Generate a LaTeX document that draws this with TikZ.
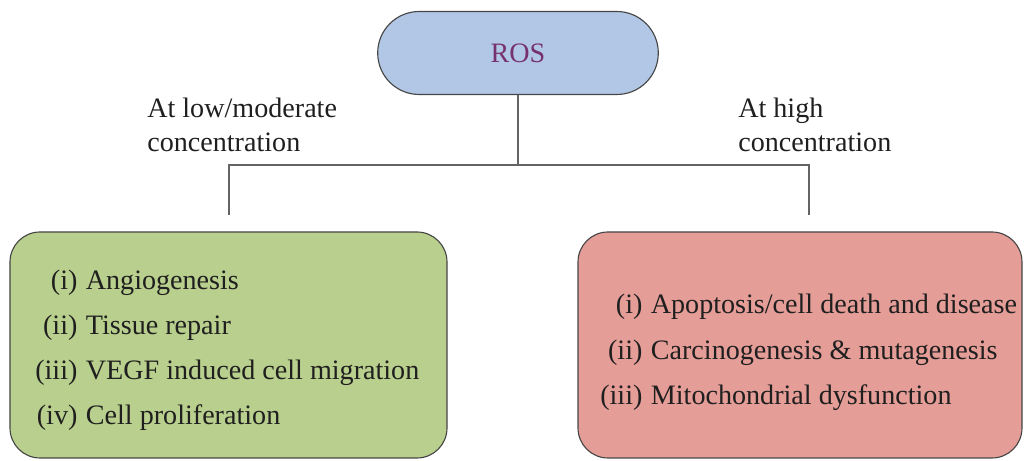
\documentclass[tikz,border=0pt]{standalone}
\usepackage{fontspec}
\setmainfont{Liberation Serif}
\usetikzlibrary{shapes.misc}
\definecolor{rosblue}{RGB}{178,199,229}
\definecolor{rostext}{RGB}{118,50,110}
\definecolor{lowgreen}{RGB}{185,207,141}
\definecolor{highred}{RGB}{229,157,151}
\definecolor{edgegray}{RGB}{70,70,70}
\definecolor{linegray}{RGB}{100,100,100}
\newcommand{\effectlist}[1]{{\renewcommand{\arraystretch}{1.31}\begin{tabular}{@{}r@{\hspace{6pt}}l@{}}#1\end{tabular}}}

\begin{document}
\begin{tikzpicture}[
  every node/.style={font=\fontsize{20}{24.5}\selectfont, text=black!88},
  rosbox/.style={draw=edgegray, line width=.8pt, fill=rosblue, rounded rectangle, minimum width=7.25cm, minimum height=2.075cm, text=rostext},
  effectbox/.style={draw=edgegray, line width=.8pt, rounded corners=.75cm, minimum height=5.65cm},
  branch/.style={draw=linegray, line width=.8pt}]
\useasboundingbox (0,0) rectangle (25.675,-11.525);

\node[rosbox] (ros) at (12.95,-1.325) {ROS};

\coordinate (split)   at (12.95,-4.125);
\coordinate (lowend)  at (5.725,-5.375);
\coordinate (highend) at (20.225,-5.375);
\draw[branch] (ros.south) -- (split);
\draw[branch] (lowend) |- (split) -| (highend);

\node[anchor=west, align=left, inner sep=0] (lowlabel)  at (3.675,-3.125) {At low/moderate\\concentration};
\node[anchor=west, align=left, inner sep=0] (highlabel) at (18.45,-3.125) {At high\\concentration};

\node[effectbox, fill=lowgreen, minimum width=10.925cm] (lowbox)  at (5.7125,-8.625) {};
\node[effectbox, fill=highred,  minimum width=11.1cm]   (highbox) at (20.0,-8.625) {};

\node[anchor=west, inner sep=0] (lowlist) at (0.875,-8.7) {\effectlist{(i)&Angiogenesis\\(ii)&Tissue repair\\(iii)&VEGF induced cell migration\\(iv)&Cell proliferation}};
\node[anchor=west, inner sep=0] (highlist) at (15.0,-8.75) {\effectlist{(i)&Apoptosis/cell death and disease\\(ii)&Carcinogenesis \& mutagenesis\\(iii)&Mitochondrial dysfunction}};
\end{tikzpicture}
\end{document}
